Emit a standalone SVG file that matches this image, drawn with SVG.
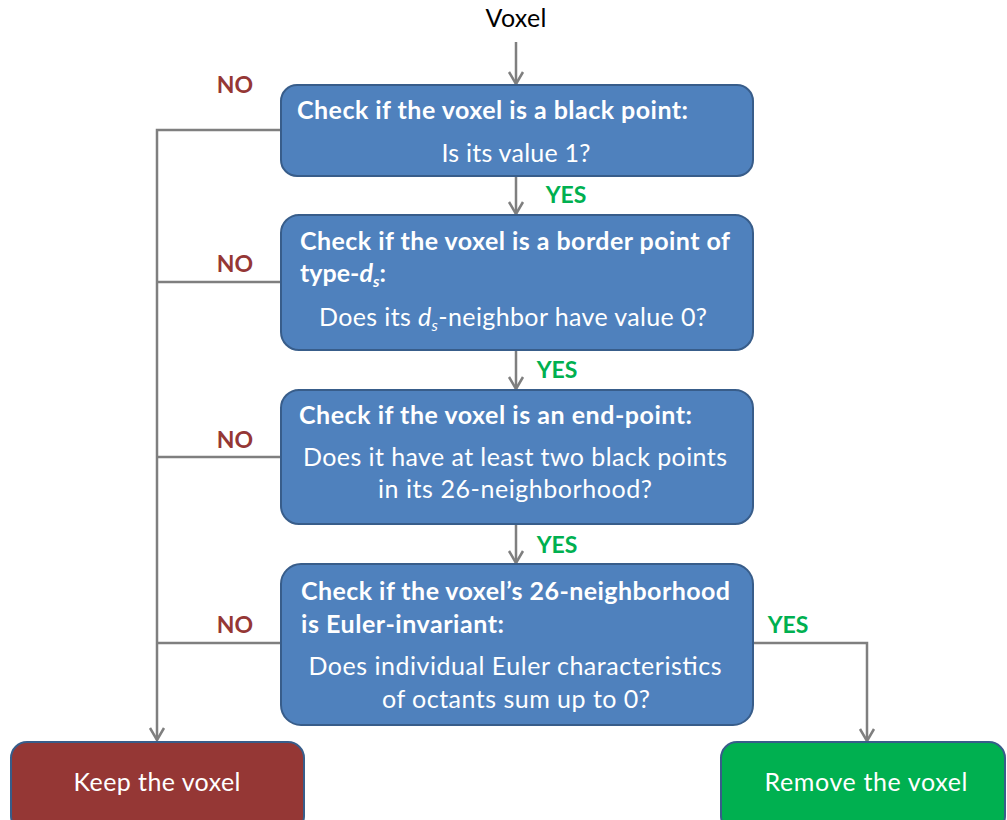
<svg xmlns="http://www.w3.org/2000/svg" width="1007" height="820" viewBox="0 0 1007 820">
  <style>
    .box { fill: #4f81bd; stroke: #385d8a; stroke-width: 2; }
    .keep { fill: #953735; stroke: #385d8a; stroke-width: 2; }
    .remove { fill: #00b050; stroke: #385d8a; stroke-width: 2; }
    .t { font-family: Lato, "Open Sans", sans-serif; font-size: 25px; fill: #ffffff; }
    .b { font-weight: bold; }
    .c { text-anchor: middle; }
    .lbl { font-family: Lato, "Open Sans", sans-serif; font-size: 23px; font-weight: bold; text-anchor: middle; }
    .no { fill: #953735; }
    .yes { fill: #00b050; }
    .wire { fill: none; stroke: #7f7f7f; stroke-width: 2.5; }
    .head { fill: none; stroke: #7f7f7f; stroke-width: 2.5; stroke-linejoin: miter; }
  </style>
  <rect width="1007" height="820" fill="#ffffff"/>

  <!-- connectors with open chevron heads -->
  <g id="connectors">
    <path class="wire" d="M516,42 V84"/>
    <path class="head" d="M509,72 L516,84 L523,72"/>
    <path class="wire" d="M516,177 V214"/>
    <path class="head" d="M509,202 L516,214 L523,202"/>
    <path class="wire" d="M516,351 V389"/>
    <path class="head" d="M509,377 L516,389 L523,377"/>
    <path class="wire" d="M516,525 V563"/>
    <path class="head" d="M509,551 L516,563 L523,551"/>
    <path class="wire" d="M281,130 H157 V740"/>
    <path class="head" d="M150,728 L157,740 L164,728"/>
    <path class="wire" d="M281,282 H157"/>
    <path class="wire" d="M281,457 H157"/>
    <path class="wire" d="M281,643 H157"/>
    <path class="wire" d="M753,643 H867 V741"/>
    <path class="head" d="M860,729 L867,741 L874,729"/>
    <text class="lbl no" x="235" y="93">NO</text>
    <text class="lbl no" x="235" y="272">NO</text>
    <text class="lbl no" x="235" y="448">NO</text>
    <text class="lbl no" x="235" y="633">NO</text>
    <text class="lbl yes" x="566" y="203">YES</text>
    <text class="lbl yes" x="557" y="378">YES</text>
    <text class="lbl yes" x="557" y="553">YES</text>
    <text class="lbl yes" x="788" y="633">YES</text>
  </g>

  <g id="start">
    <text class="t c" x="516" y="27" textLength="61" style="fill:#000000">Voxel</text>
  </g>

  <g id="check-black">
    <rect class="box" x="281" y="85" width="472" height="91" rx="16"/>
    <text class="t b" x="297" y="119" textLength="391">Check if the voxel is a black point:</text>
    <text class="t c" x="516" y="162" textLength="149">Is its value 1?</text>
  </g>

  <g id="check-border">
    <rect class="box" x="281" y="215" width="472" height="135" rx="18"/>
    <text class="t b" x="300" y="250" textLength="430">Check if the voxel is a border point of</text>
    <text class="t b" x="300" y="282">type-<tspan font-style="italic">d</tspan><tspan font-style="italic" font-size="16" dy="5">s</tspan><tspan dy="-5">:</tspan></text>
    <text class="t c" x="513" y="326" textLength="388">Does its <tspan font-style="italic">d</tspan><tspan font-style="italic" font-size="16" dy="5">s</tspan><tspan dy="-5">-neighbor have value 0?</tspan></text>
  </g>

  <g id="check-end">
    <rect class="box" x="281" y="390" width="472" height="134" rx="18"/>
    <text class="t b" x="299" y="424" textLength="393">Check if the voxel is an end-point:</text>
    <text class="t c" x="515" y="466" textLength="424">Does it have at least two black points</text>
    <text class="t c" x="515" y="498" textLength="274">in its 26-neighborhood?</text>
  </g>

  <g id="check-euler">
    <rect class="box" x="281" y="564" width="472" height="161" rx="20"/>
    <text class="t b" x="301" y="600" textLength="429">Check if the voxel’s 26-neighborhood</text>
    <text class="t b" x="301" y="633" textLength="203">is Euler-invariant:</text>
    <text class="t c" x="515" y="675" textLength="413">Does individual Euler characteristics</text>
    <text class="t c" x="516" y="708" textLength="268">of octants sum up to 0?</text>
  </g>

  <g id="keep">
    <rect class="keep" x="11" y="742" width="293" height="90" rx="16"/>
    <text class="t c" x="157" y="791" textLength="167">Keep the voxel</text>
  </g>

  <g id="remove">
    <rect class="remove" x="721" y="742" width="284" height="90" rx="16"/>
    <text class="t c" x="866" y="791" textLength="203">Remove the voxel</text>
  </g>
</svg>
